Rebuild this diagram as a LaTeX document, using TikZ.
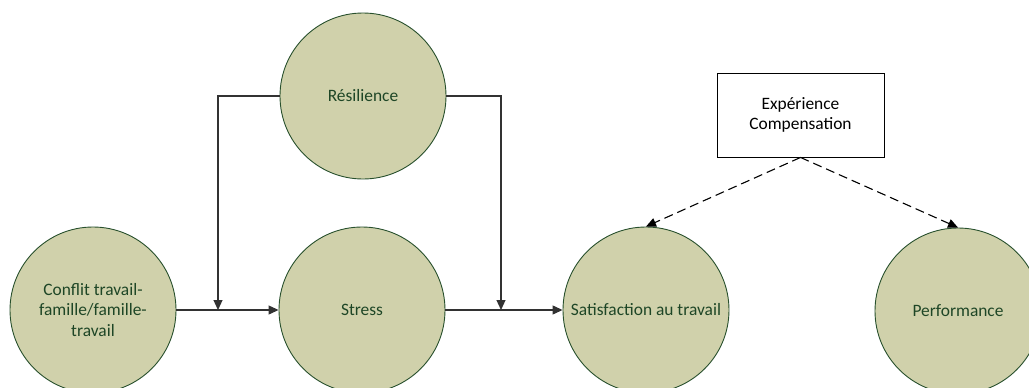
\documentclass[tikz,border=0pt]{standalone}
\usepackage{fontspec}
\setmainfont{Carlito}
\usetikzlibrary{arrows.meta}
\definecolor{circfill}{RGB}{208,209,171}
\definecolor{circdraw}{RGB}{40,80,45}
\definecolor{circtext}{RGB}{30,70,38}
\definecolor{linecol}{RGB}{50,50,50}
\tikzset{
  bubble/.style={circle, draw=circdraw, fill=circfill, line width=0.9pt, minimum size=166pt, inner sep=0pt, text=circtext, align=center, font=\fontsize{17.4}{20.5}\selectfont},
  modbox/.style={rectangle, draw=black, fill=white, line width=0.9pt, minimum width=167pt, minimum height=84pt, inner sep=0pt, align=center, font=\fontsize{17.4}{19.5}\selectfont},
  conn/.style={draw=linecol, line width=1.2pt, -{Triangle[length=10pt,width=9pt]}},
  plainconn/.style={draw=linecol, line width=1.2pt},
  dconn/.style={draw=black, line width=1.1pt, dash pattern=on 9pt off 5pt, -{Triangle[length=10pt,width=9pt]}}
}
\begin{document}
\begin{tikzpicture}[x=1pt,y=-1pt]
\useasboundingbox (0,0) rectangle (1029,388);
\node[bubble] (conf) at (93,310) {Conflit travail-\\famille/famille-\\travail};
\node[bubble] (stress) at (362,310) {Stress};
\node[bubble] (res) at (363,96) {Résilience};
\node[bubble] (sat) at (646,310) {Satisfaction au travail};
\node[bubble] (perf) at (958,311) {Performance};
\node[modbox] (box) at (800.5,115) {Expérience\\Compensation};
\coordinate (m1) at (218,310);
\coordinate (m2) at (501,310);
\draw[conn] (conf) -- (stress);
\draw[conn] (stress) -- (sat);
\draw[conn] (res.west) -| (m1);
\draw[conn] (res.east) -| (m2);
\draw[dconn] (box.south) -- (sat.north);
\draw[dconn] (box.south) -- (perf.north);
\end{tikzpicture}
\end{document}
